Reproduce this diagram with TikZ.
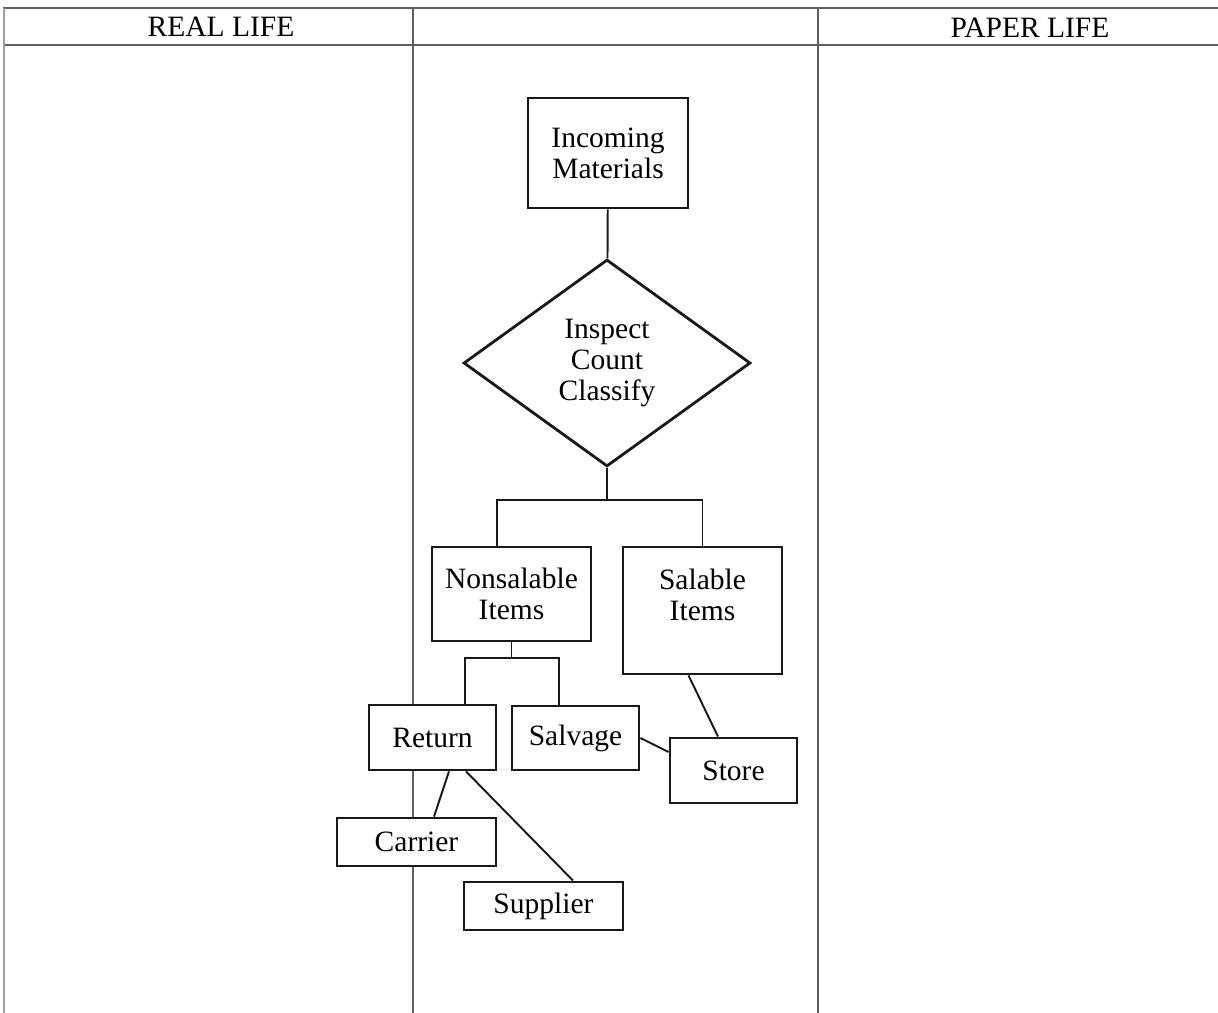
\documentclass[tikz,border=0pt]{standalone}
\usepackage{fontspec}
\setmainfont{Liberation Serif}
\usetikzlibrary{shapes.geometric}

\definecolor{rulecolor}{RGB}{95,95,95}
\definecolor{boxcolor}{RGB}{25,25,25}

\tikzset{
  box/.style={draw=boxcolor, line width=1.6pt, fill=white, align=center, inner sep=0pt},
  link/.style={draw=boxcolor, line width=1.1pt},
}

\begin{document}
\begin{tikzpicture}[x=0.02cm, y=-0.02cm, font=\fontsize{16.8}{17.6}\selectfont]
  \useasboundingbox (0,0) rectangle (1218,1013);

  % Draw the table with its two header cells
  \draw[rulecolor, line width=1.4pt] (3,8) -- (1218,8);
  \draw[rulecolor, line width=1.4pt] (3,45) -- (1218,45);
  \draw[rulecolor!60, line width=0.8pt] (4,8) -- (4,1013);
  \foreach \x in {413,818} {
    \draw[rulecolor, line width=1.1pt] (\x,8) -- (\x,1013);
  }
  \node (reallife) at (221,27) {REAL LIFE};
  \node (paperlife) at (1030,28) {PAPER LIFE};

  % Flow chart in the middle column
  \node[box, minimum width=3.2cm, minimum height=2.2cm] (incoming) at (608,153) {Incoming\\Materials};
  \node[box, diamond, aspect=1.39, minimum width=5.74cm, minimum height=4.14cm] (inspect) at (607,363) {Inspect\\Count\\Classify};
  \node[box, minimum width=3.18cm, minimum height=1.88cm] (nonsalable) at (511.5,594) {Nonsalable\\Items};
  \node[box, minimum width=3.18cm, minimum height=2.54cm] (salable) at (702.5,610.5) {Salable\\Items\\~};
  \node[box, minimum width=2.54cm, minimum height=1.3cm] (return) at (432.5,737.5) {Return};
  \node[box, minimum width=2.54cm, minimum height=1.28cm] (salvage) at (575.5,738) {Salvage};
  \node[box, minimum width=2.54cm, minimum height=1.3cm] (store) at (733.5,770.5) {Store};
  \node[box, minimum width=3.18cm, minimum height=0.96cm] (carrier) at (416.5,842) {Carrier};
  \node[box, minimum width=3.18cm, minimum height=0.96cm] (supplier) at (543.5,906) {Supplier};

  % Connectors
  \coordinate (splitone) at (607,500);
  \coordinate (splittwo) at (511.5,658);
  \draw[link] (incoming) -- (inspect);
  \draw[link] (inspect.south) -- (splitone);
  \draw[link] ([xshift=-0.29cm]nonsalable.north) |- (splitone) -| (salable.north);
  \draw[link] (nonsalable.south) -- (splittwo);
  \draw[link] ([xshift=0.65cm]return.north) |- (splittwo) -| ([xshift=-0.33cm]salvage.north);
  \draw[link] ([xshift=-0.28cm]salable.south) -- ([xshift=-0.31cm]store.north);
  \draw[link] (salvage.east) -- ([yshift=0.37cm]store.west);
  \draw[link] ([xshift=0.33cm]return.south) -- ([xshift=0.35cm]carrier.north);
  \draw[link] ([xshift=0.67cm]return.south) -- ([xshift=0.59cm]supplier.north);
\end{tikzpicture}
\end{document}
